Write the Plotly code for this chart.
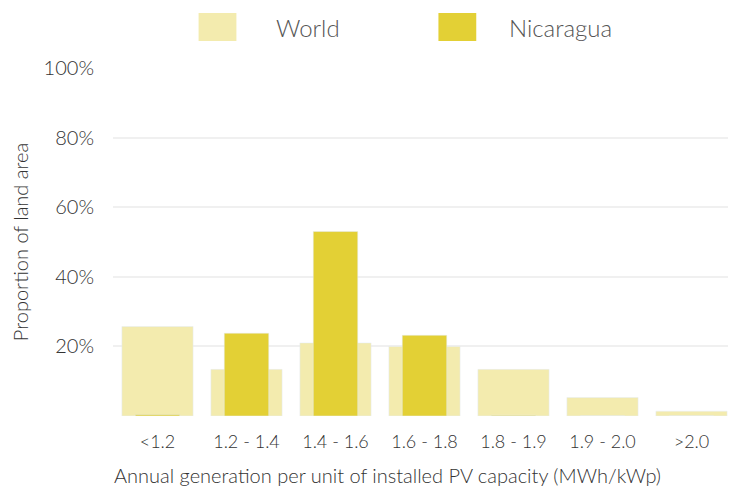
import plotly.graph_objects as go

categories = ["<1.2", "1.2 - 1.4", "1.4 - 1.6", "1.6 - 1.8", "1.8 - 1.9", "1.9 - 2.0", ">2.0"]
world = [25.7, 13.4, 21.0, 20.0, 13.4, 5.3, 1.4]
nicaragua = [0.4, 23.8, 53.0, 23.2, 0.2, 0.0, 0.0]
y_ticks = [0, 20, 40, 60, 80, 100]
y_ticktext = ["", "20%", "40%", "60%", "80%", "100%"]

WORLD_C = "#F3EBAE"
NIC_C = "#E3D035"
FONT = "Lato"

fig = go.Figure()
fig.add_trace(go.Bar(x=categories, y=world, name="World", marker_color=WORLD_C,
                     width=0.8, showlegend=False))
fig.add_trace(go.Bar(x=categories, y=nicaragua, name="Nicaragua", marker_color=NIC_C,
                     width=0.5, showlegend=False))

# plot area in screen pixels: x 110..736, y 68..416
PX0, PW, PY1, PH = 110, 626, 416, 348
legend_items = [("World", WORLD_C, 196, 234, 272), ("Nicaragua", NIC_C, 437, 475, 506)]
for name, col, x0, x1, tx in legend_items:
    fig.add_shape(type="rect", xref="paper", yref="paper",
                  x0=(x0 - PX0) / PW, x1=(x1 - PX0) / PW,
                  y0=(PY1 - 41) / PH, y1=(PY1 - 13) / PH,
                  fillcolor=col, line_width=0, layer="above")
    fig.add_annotation(text=name, xref="paper", yref="paper",
                       x=(tx - PX0) / PW, y=(PY1 - 27) / PH,
                       xanchor="left", yanchor="middle", showarrow=False,
                       font=dict(family=FONT, size=24, color="#555555", weight=300))

# x-axis title (offset to the left like the reference)
fig.add_annotation(text="Annual generation per unit of installed PV capacity (MWh/kWp)",
                   xref="paper", yref="paper",
                   x=(386 - PX0) / PW, y=(PY1 - 475) / PH,
                   xanchor="center", yanchor="middle", showarrow=False,
                   font=dict(family=FONT, size=20, color="#333333", weight=300))

# page body has an 8px offset; margins compensate
fig.update_layout(
    width=736, height=488,
    margin=dict(l=102, r=8, t=60, b=80),
    barmode="overlay",
    plot_bgcolor="white", paper_bgcolor="white",
    font=dict(family=FONT, color="#333333", size=17),
)
fig.update_xaxes(showgrid=False, showline=False, zeroline=False, ticks="",
                 tickfont=dict(family=FONT, size=18, color="#333333", weight=300),
                 ticklabelstandoff=13)
fig.update_yaxes(range=[0, 100], tickvals=y_ticks, ticktext=y_ticktext,
                 showgrid=True, gridcolor="#F0F0F0", gridwidth=2,
                 zeroline=False, showline=False, ticks="",
                 tickfont=dict(family=FONT, size=20, color="#333333", weight=300),
                 ticklabelstandoff=18,
                 title=dict(text="Proportion of land area",
                            font=dict(family=FONT, size=20, color="#333333", weight=300),
                            standoff=14))

fig.write_html("out.html")
